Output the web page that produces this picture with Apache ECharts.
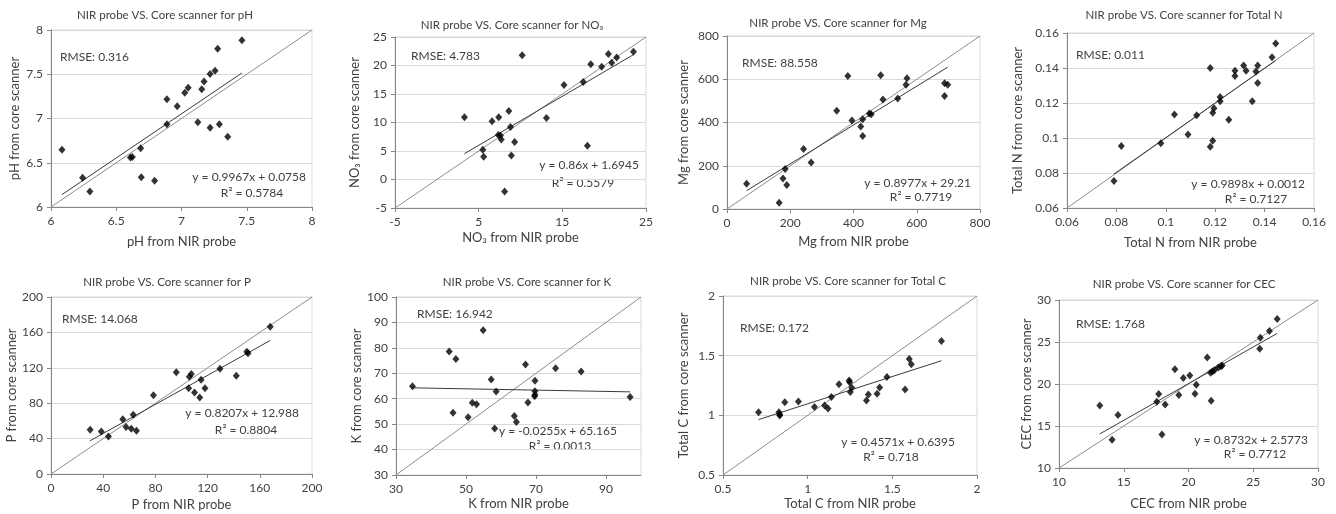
<!DOCTYPE html>
<html>
<head>
<meta charset="utf-8">
<script src="https://cdn.jsdelivr.net/npm/echarts@6/dist/echarts.min.js"></script>
<style>
  html, body { margin: 0; background: #fff; }
  #chart { width: 1336px; height: 514px; }
</style>
</head>
<body>
<div id="chart"></div>
<script>
// --- values: NIR probe (x) vs core scanner (y) ---
const phNir = [6.084, 6.242, 6.298, 6.608, 6.623, 6.687, 6.692, 6.794, 6.888, 6.888, 6.967, 7.025, 7.051, 7.125, 7.155, 7.173, 7.219, 7.219, 7.257, 7.277, 7.290, 7.354, 7.463];
const phCore = [6.648, 6.33, 6.176, 6.558, 6.566, 6.663, 6.337, 6.296, 7.217, 6.936, 7.139, 7.292, 7.348, 6.959, 7.330, 7.419, 7.502, 6.895, 7.539, 7.787, 6.936, 6.794, 7.884];

const no3Nir = [3.3, 5.5, 5.6, 6.6, 7.4, 7.35, 7.6, 7.7, 8.1, 8.6, 8.8, 8.9, 9.3, 10.2, 13.1, 15.2, 17.5, 18.0, 18.4, 19.7, 20.5, 20.9, 21.5, 23.5];
const no3Core = [10.9, 5.2, 4.0, 10.2, 10.9, 7.8, 7.7, 7.0, -2.1, 12.0, 9.2, 4.2, 6.6, 21.8, 10.8, 16.6, 17.1, 5.9, 20.2, 19.8, 22.0, 20.5, 21.4, 22.4];

const mgNir = [62, 165, 177, 184, 189, 242, 266, 347, 382, 395, 423, 429, 429, 450, 456, 486, 493, 540, 566, 569, 688, 688, 698];
const mgCore = [117, 29, 141, 185, 111, 278, 215, 454, 615, 409, 382, 337, 415, 442, 438, 618, 506, 511, 575, 605, 523, 582, 575];

const totalNNir = [0.079, 0.082, 0.098, 0.1035, 0.109, 0.1125, 0.118, 0.118, 0.119, 0.119, 0.1195, 0.122, 0.122, 0.1255, 0.128, 0.128, 0.1315, 0.1325, 0.135, 0.1365, 0.1372, 0.1372, 0.143, 0.1445];
const totalNCore = [0.0755, 0.0955, 0.097, 0.1135, 0.102, 0.113, 0.140, 0.095, 0.0985, 0.1145, 0.117, 0.121, 0.1235, 0.1105, 0.1385, 0.1355, 0.1415, 0.1385, 0.121, 0.138, 0.1415, 0.1315, 0.1462, 0.154];

const pNir = [30, 38.5, 44, 55, 57.5, 61.5, 63, 65.5, 78.5, 96, 105.5, 106, 107.5, 110, 114, 115, 118, 129.5, 142, 150, 151, 168];
const pCore = [50, 48, 42.5, 62, 53, 51, 67, 49, 89, 115, 97, 110, 113, 92, 86.5, 106.5, 97, 119, 111, 138, 136.5, 166.5];

const kNir = [34.7, 45.2, 46.3, 47.1, 50.6, 51.8, 53, 54.9, 57.2, 58.2, 58.6, 63.8, 64.4, 67, 67.7, 69.6, 69.7, 69.7, 69.7, 75.6, 82.9, 96.9];
const kCore = [64.9, 78.6, 54.5, 75.6, 52.7, 58.4, 57.8, 86.9, 67.6, 48.3, 62.8, 53.2, 50.8, 73.5, 58.5, 61.0, 67.1, 62.9, 61.6, 72.0, 70.7, 60.7];

const totalCNir = [0.71, 0.83, 0.835, 0.835, 0.865, 0.945, 1.04, 1.1, 1.12, 1.14, 1.185, 1.245, 1.248, 1.252, 1.26, 1.347, 1.358, 1.41, 1.425, 1.468, 1.575, 1.6, 1.612, 1.79];
const totalCCore = [1.025, 1.025, 1.01, 0.998, 1.11, 1.115, 1.07, 1.082, 1.058, 1.153, 1.26, 1.292, 1.278, 1.196, 1.232, 1.125, 1.175, 1.18, 1.233, 1.322, 1.216, 1.472, 1.428, 1.622];

const cecNir = [13.15, 14.1, 14.55, 17.55, 17.7, 17.95, 18.2, 18.95, 19.25, 19.6, 20.1, 20.5, 20.6, 21.45, 21.7, 21.75, 21.85, 22.0, 22.3, 22.5, 22.6, 25.5, 25.55, 26.25, 26.85];
const cecCore = [17.45, 13.35, 16.3, 17.9, 18.8, 14.0, 17.55, 21.75, 18.7, 20.7, 21.0, 18.85, 19.9, 23.15, 21.35, 18.0, 21.5, 21.65, 21.95, 22.1, 22.2, 24.2, 25.5, 26.3, 27.75];

const variables = ['pH', 'NO₃', 'Mg', 'Total N', 'P', 'K', 'Total C', 'CEC'];
const nirValues = [phNir, no3Nir, mgNir, totalNNir, pNir, kNir, totalCNir, cecNir];
const coreValues = [phCore, no3Core, mgCore, totalNCore, pCore, kCore, totalCCore, cecCore];

// trend lines and stats as printed on each panel
const fitSlope = [0.9967, 0.86, 0.8977, 0.9898, 0.8207, -0.0255, 0.4571, 0.8732];
const fitIntercept = [0.0758, 1.6945, 29.21, 0.0012, 12.988, 65.165, 0.6395, 2.5773];
const rmseLabels = ['0.316', '4.783', '88.558', '0.011', '14.068', '16.942', '0.172', '1.768'];
const r2Labels = ['0.5784', '0.5579', '0.7719', '0.7127', '0.8804', '0.0013', '0.718', '0.7712'];

// axis ranges (same for x and y)
const axisMin = [6, -5, 0, 0.06, 0, 30, 0.5, 10];
const axisMax = [8, 25, 800, 0.16, 200, 100, 2, 30];
const xStep = [0.5, 10, 200, 0.02, 40, 20, 0.5, 5];
const yStep = [0.5, 5, 200, 0.02, 40, 10, 0.5, 5];

// --- layout (pixels) ---
const layout = [
  { grid: [51, 30, 261, 177],   title: [165, 15],   xGap: 28, yGap: 30,   rmse: [60, 57],    eq: [306, 177],  r2: [252, 193] },
  { grid: [395, 37, 251, 171],  title: [512, 25],   xGap: 23, yGap: 34,   rmse: [411, 56],   eq: [639, 165],  r2: [583, 183] },
  { grid: [727, 36, 253, 173],  title: [838, 23],   xGap: 26, yGap: 37,   rmse: [742, 63],   eq: [971, 183],  r2: [921, 197] },
  { grid: [1067, 33, 247, 175], title: [1184, 15],  xGap: 28, yGap: 43,   rmse: [1076, 55],  eq: [1305, 184], r2: [1256, 199] },
  { grid: [51, 297, 261, 177],  title: [167, 282],  xGap: 24, yGap: 32,   rmse: [62, 319],   eq: [299, 413],  r2: [246, 430] },
  { grid: [396, 297, 245, 178], title: [527, 282],  xGap: 22, yGap: 30,   rmse: [417, 314],  eq: [617, 431],  r2: [560, 446] },
  { grid: [723, 296, 254, 179], title: [848, 281],  xGap: 22, yGap: 33,   rmse: [740, 328],  eq: [955, 442],  r2: [891, 457] },
  { grid: [1059, 300, 259, 168], title: [1184, 284], xGap: 29, yGap: 25,  rmse: [1076, 324], eq: [1308, 440], r2: [1255, 454] }
];

const FONT = 'Lato, "Liberation Sans", sans-serif';
const TEXT = '#404040';
const AXIS = '#868686';
const GRIDLINE = '#d9d9d9';

const grids = [], xAxes = [], yAxes = [], series = [], texts = [];

const addText = (text, x, y, size, align) => {
  texts.push({
    type: 'text', x: x, y: y, silent: true,
    style: { text: text, fill: TEXT, fontFamily: FONT, fontSize: size, align: align, verticalAlign: 'middle' }
  });
};

variables.forEach((name, i) => {
  const lay = layout[i];
  grids.push({
    left: lay.grid[0], top: lay.grid[1], width: lay.grid[2], height: lay.grid[3],
    show: true, borderColor: GRIDLINE, borderWidth: 1, backgroundColor: 'transparent'
  });

  const axisBase = {
    gridIndex: i, type: 'value', min: axisMin[i], max: axisMax[i],
    nameLocation: 'middle',
    nameTextStyle: { color: TEXT, fontFamily: FONT, fontSize: 13 },
    axisLine: { show: true, onZero: false, lineStyle: { color: AXIS, width: 1 } },
    axisTick: { show: true, inside: false, length: 4, lineStyle: { color: AXIS } },
    axisLabel: { color: TEXT, fontFamily: FONT, fontSize: 12, margin: 8 }
  };
  xAxes.push(Object.assign({}, axisBase, {
    name: name + ' from NIR probe', nameGap: lay.xGap, interval: xStep[i],
    splitLine: { show: false },
    axisLabel: Object.assign({}, axisBase.axisLabel, { showMaxLabel: i !== 5 })
  }));
  yAxes.push(Object.assign({}, axisBase, {
    name: name + ' from core scanner', nameGap: lay.yGap, interval: yStep[i],
    splitLine: { show: true, lineStyle: { color: GRIDLINE, width: 1 } }
  }));

  const xs = nirValues[i], ys = coreValues[i];
  series.push({
    type: 'scatter', xAxisIndex: i, yAxisIndex: i,
    symbol: 'diamond', symbolSize: [7, 8],
    itemStyle: { color: '#000' },
    data: xs.map((x, k) => [x, ys[k]]),
    z: 5
  });

  // 1:1 line across the plot
  series.push({
    type: 'line', xAxisIndex: i, yAxisIndex: i, symbol: 'none', silent: true,
    lineStyle: { color: '#8c8c8c', width: 1 },
    data: [[axisMin[i], axisMin[i]], [axisMax[i], axisMax[i]]],
    z: 3
  });

  // linear fit over the range of the data
  const lo = Math.min(...xs), hi = Math.max(...xs);
  series.push({
    type: 'line', xAxisIndex: i, yAxisIndex: i, symbol: 'none', silent: true,
    lineStyle: { color: '#3a3a3a', width: 1 },
    data: [[lo, fitSlope[i] * lo + fitIntercept[i]], [hi, fitSlope[i] * hi + fitIntercept[i]]],
    z: 4
  });

  addText('NIR probe VS. Core scanner for ' + name, lay.title[0], lay.title[1], 11.5, 'center');
  addText('RMSE: ' + rmseLabels[i], lay.rmse[0], lay.rmse[1], 12, 'left');
  addText('y = ' + fitSlope[i] + 'x + ' + fitIntercept[i], lay.eq[0], lay.eq[1], 12, 'right');
  addText('R² = ' + r2Labels[i], lay.r2[0], lay.r2[1], 12, 'center');
});

const chart = echarts.init(document.getElementById('chart'));
chart.setOption({
  backgroundColor: '#fff',
  animation: false,
  grid: grids,
  xAxis: xAxes,
  yAxis: yAxes,
  series: series,
  graphic: texts
});
</script>
</body>
</html>
